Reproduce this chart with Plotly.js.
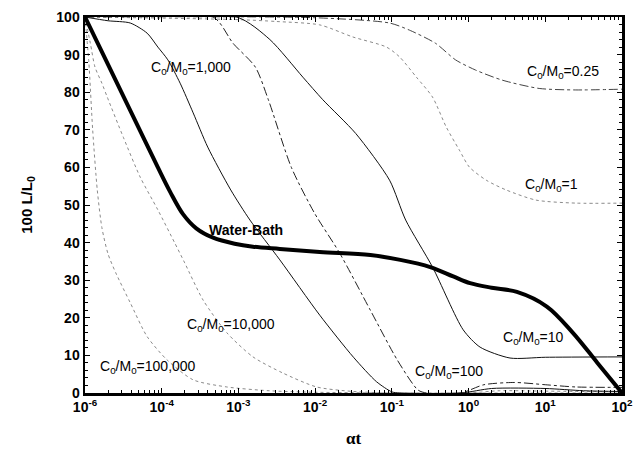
<!DOCTYPE html>
<html>
<head>
<meta charset="utf-8">
<script src="https://cdn.plot.ly/plotly-3.0.1.min.js"></script>
<style>html,body{margin:0;padding:0;background:#fff}#chart{width:641px;height:450px}</style>
</head>
<body>
<div id="chart"></div>
<script>
// x values are stored as log10(alpha*t)
const waterBathLogT = [-5, -4.77, -4.54, -4.3, -4.05, -3.89, -3.72, -3.55, -3.33, -3.05, -2.81, -2.46, -1.94, -1.28, -0.89, -0.5, -0.2, 0.02, 0.3, 0.63, 1.02, 1.36, 1.68, 2];
const waterBathY    = [100, 90.3, 80.6, 70.5, 60, 53.5, 47.5, 43.8, 41.3, 39.7, 38.9, 38.3, 37.5, 36.7, 35.4, 33.5, 31, 29.2, 28, 26.9, 23, 16, 8, 0];

const r1000LogT = [-5, -4.7, -4.41, -4.19, -4.05, -3.92, -3.76, -3.59, -3.4, -3.1, -2.85, -2.46, -1.94, -1.5, -1.2, -1.0, -0.9, -0.1, 0.3, 1.0, 1.5, 2];
const r1000Y    = [100, 99, 98.4, 95.7, 92, 88.6, 82.4, 74.5, 65.4, 54, 46, 35.4, 20.7, 9.5, 3, 0.3, 0, 0, 1.2, 1.2, 0.6, 0.4];

const r100LogT = [-5, -3.33, -3.07, -2.78, -2.61, -2.31, -2.01, -1.68, -1.28, -0.93, -0.66, -0.55, -0.1, 0.2, 0.6, 1.0, 1.4, 2];
const r100Y    = [100, 100, 93, 86.7, 78, 60, 47.9, 37.2, 22, 8.8, 0.8, 0, 0, 2.2, 2.8, 2.2, 1.6, 1.5];

const r10LogT = [-5, -3.02, -2.59, -2.16, -1.9, -1.47, -1.03, -0.82, -0.47, -0.07, 0.15, 0.54, 1.0, 2];
const r10Y    = [100, 100, 94, 84, 78, 69, 56.6, 46, 33.5, 16.8, 12.2, 9.3, 9.5, 9.6];

const r1LogT = [-5, -4, -3, -2.5, -1.94, -1.51, -1.07, -0.9, -0.68, -0.47, -0.29, -0.12, 0.01, 0.23, 0.49, 0.88, 1.4, 2];
const r1Y    = [100, 99.7, 99.3, 98.8, 97.9, 94.7, 92, 89.4, 84, 78.7, 70.7, 64.6, 60.1, 56.6, 54, 51.3, 50.5, 50.5];

const r025LogT = [-5, -2, -1.03, -0.77, -0.43, -0.17, 0.09, 0.44, 0.92, 1.39, 2];
const r025Y    = [100, 99.8, 98.4, 96.5, 93, 88.6, 85.9, 83.2, 81, 80.6, 80.8];

const r10000LogT = [-5, -4.93, -4.87, -4.78, -4.71, -4.5, -4.28, -4.05, -3.83, -3.7, -3.46, -3.15, -2.81, -2.42, -1.98, -1.5, -1, 0, 0.4, 1, 2];
const r10000Y    = [100, 93, 86.7, 82.4, 78.7, 68, 57.4, 48.7, 39.9, 34.6, 24.7, 16, 9.6, 5.3, 1.6, 0.4, 0, 0, 0.6, 0.5, 0.3];

const r100000LogT = [-5, -4.95, -4.9, -4.84, -4.78, -4.7, -4.6, -4.41, -4.19, -3.93, -3.59, -3.15, -2.6, -2, -1, 2];
const r100000Y    = [100, 88, 70, 54, 44, 37, 32, 24, 15, 8.8, 3.5, 1.6, 0.6, 0.2, 0, 0];

const xTickLabels = ["10<sup>-6</sup>", "10<sup>-4</sup>", "10<sup>-3</sup>", "10<sup>-2</sup>", "10<sup>-1</sup>", "10<sup>0</sup>", "10<sup>1</sup>", "10<sup>2</sup>"];
const xTickExponents = [-5, -4, -3, -2, -1, 0, 1, 2];

const toX = a => a.map(v => Math.pow(10, v));

function tr(lx, y, color, dash, width, sm) {
  return {x: toX(lx), y: y, type: 'scatter', mode: 'lines',
    line: {color: color, dash: dash, width: width, shape: 'spline', smoothing: sm || 0.7},
    hoverinfo: 'skip', showlegend: false};
}

const traces = [
  tr(r100000LogT, r100000Y, '#8a8a8a', 'dot', 1),
  tr(r10000LogT, r10000Y, '#8a8a8a', 'dot', 1),
  tr(r1LogT, r1Y, '#8a8a8a', 'dot', 1),
  tr(r025LogT, r025Y, '#444', 'dashdot', 1),
  tr(r100LogT, r100Y, '#222', 'dashdot', 1),
  tr(r10LogT, r10Y, '#111', 'solid', 1),
  tr(r1000LogT, r1000Y, '#111', 'solid', 1),
  tr(waterBathLogT, waterBathY, '#000', 'solid', 4, 1)
];

const minorX = [];
for (let e = -5; e < 2; e++) for (let k = 2; k <= 9; k++) minorX.push(k * Math.pow(10, e));

const fam = 'Arial, Liberation Sans, sans-serif';
function ann(x, y, text, bold) {
  return {x: x, y: y, xref: 'x', yref: 'y', text: text, showarrow: false,
    font: {family: fam, size: 14, color: '#000', weight: bold ? 'bold' : 'normal'}};
}
const sub = "C<sub>0</sub>/M<sub>0</sub>=";

const layout = {
  width: 641, height: 450,
  margin: {l: 85, r: 19, t: 17, b: 57},
  paper_bgcolor: '#fff', plot_bgcolor: '#fff',
  showlegend: false,
  xaxis: {
    type: 'log', range: [-5, 2],
    tickmode: 'array', tickvals: toX(xTickExponents), ticktext: xTickLabels,
    ticks: 'inside', ticklen: 5, tickwidth: 1, tickcolor: '#000',
    minor: {tickmode: 'array', tickvals: minorX, ticks: 'inside', ticklen: 3, tickcolor: '#000', showgrid: false},
    showline: true, linewidth: 2.5, linecolor: '#000', mirror: 'ticks',
    showgrid: false, zeroline: false,
    tickfont: {family: fam, size: 14, color: '#000', weight: 'bold'},
    title: {text: 'αt', font: {family: 'Times New Roman, Liberation Serif, serif', size: 17, color: '#000', weight: 'bold'}, standoff: 18},
    automargin: false
  },
  yaxis: {
    range: [0, 100], dtick: 10,
    ticks: 'inside', ticklen: 5, tickwidth: 1, tickcolor: '#000',
    minor: {dtick: 2, ticks: 'inside', ticklen: 3, tickcolor: '#000', showgrid: false},
    showline: true, linewidth: 2.5, linecolor: '#000', mirror: 'ticks',
    showgrid: false, zeroline: false,
    tickfont: {family: fam, size: 14, color: '#000', weight: 'bold'},
    title: {text: '100 L/L<sub>0</sub>', font: {family: fam, size: 15, color: '#000', weight: 'bold'}, standoff: 20},
    automargin: false
  },
  annotations: [
    ann(-3.62, 86.4, sub + '1,000'),
    ann(1.23, 85.4, sub + '0.25'),
    ann(1.08, 55.3, sub + '1'),
    ann(-2.9, 43.4, 'Water-Bath', true),
    ann(-3.1, 18.1, sub + '10,000'),
    ann(-4.18, 6.9, sub + '100,000'),
    ann(0.84, 14.6, sub + '10'),
    ann(-0.25, 5.6, sub + '100')
  ]
};

Plotly.newPlot('chart', traces, layout, {staticPlot: true, displayModeBar: false});
</script>
</body>
</html>
